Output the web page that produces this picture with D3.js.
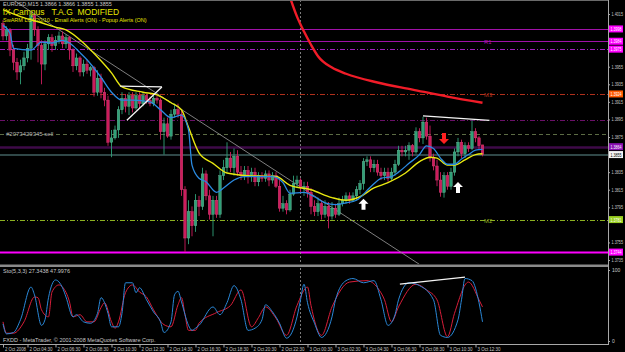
<!DOCTYPE html>
<html>
<head>
<meta charset="utf-8">
<script src="https://cdn.jsdelivr.net/npm/d3@7"></script>
<style>
body { margin: 0; background: #000; }
svg { display: block; font-family: "Liberation Sans", Arial, sans-serif; }
</style>
</head>
<body>
<script>
// EURUSD M15, 2-3 Oct 2008 - candles as [open, high, low, close]
var ohlc = [
  [1.4004,1.4008,1.3985,1.3990],[1.3990,1.4001,1.3985,1.3997],[1.3997,1.3999,1.3967,1.3974],[1.3974,1.3980,1.3951,1.3960],
  [1.3960,1.3965,1.3940,1.3949],[1.3949,1.3963,1.3935,1.3956],[1.3956,1.3972,1.3951,1.3965],[1.3965,1.3981,1.3960,1.3976],
  [1.3976,1.4017,1.3963,1.4013],[1.4013,1.4015,1.3990,1.3997],[1.3997,1.4001,1.3960,1.3979],[1.3979,1.3985,1.3935,1.3958],
  [1.3958,1.3985,1.3951,1.3981],[1.3981,1.3992,1.3974,1.3988],[1.3988,1.3992,1.3972,1.3979],[1.3979,1.3990,1.3974,1.3985],
  [1.3985,1.3995,1.3981,1.3990],[1.3990,1.3995,1.3976,1.3981],[1.3981,1.3992,1.3976,1.3988],[1.3988,1.3990,1.3963,1.3974],
  [1.3974,1.3976,1.3949,1.3956],[1.3956,1.3970,1.3951,1.3965],[1.3965,1.3967,1.3944,1.3949],[1.3949,1.3963,1.3944,1.3958],
  [1.3958,1.3963,1.3947,1.3951],[1.3951,1.3956,1.3944,1.3954],[1.3954,1.3956,1.3921,1.3926],[1.3926,1.3951,1.3922,1.3942],
  [1.3942,1.3947,1.3919,1.3926],[1.3926,1.3931,1.3910,1.3917],[1.3917,1.3922,1.3865,1.3869],[1.3869,1.3883,1.3852,1.3874],
  [1.3874,1.3888,1.3872,1.3883],[1.3883,1.3910,1.3874,1.3906],[1.3906,1.3926,1.3901,1.3919],[1.3919,1.3924,1.3903,1.3910],
  [1.3910,1.3926,1.3900,1.3922],[1.3922,1.3926,1.3903,1.3908],[1.3908,1.3926,1.3906,1.3922],[1.3922,1.3926,1.3908,1.3913],
  [1.3913,1.3926,1.3910,1.3922],[1.3922,1.3924,1.3913,1.3917],[1.3917,1.3921,1.3910,1.3913],[1.3913,1.3922,1.3910,1.3919],
  [1.3919,1.3922,1.3913,1.3917],[1.3917,1.3919,1.3872,1.3881],[1.3881,1.3897,1.3855,1.3890],[1.3890,1.3897,1.3874,1.3876],
  [1.3876,1.3906,1.3872,1.3901],[1.3901,1.3913,1.3897,1.3906],[1.3906,1.3913,1.3897,1.3901],[1.3901,1.3906,1.3808,1.3815],
  [1.3815,1.3819,1.3744,1.3760],[1.3760,1.3803,1.3753,1.3790],[1.3790,1.3796,1.3762,1.3774],[1.3774,1.3810,1.3767,1.3803],
  [1.3803,1.3808,1.3785,1.3796],[1.3796,1.3840,1.3792,1.3833],[1.3833,1.3837,1.3803,1.3808],[1.3808,1.3815,1.3781,1.3787],
  [1.3787,1.3808,1.3762,1.3803],[1.3803,1.3808,1.3783,1.3787],[1.3787,1.3837,1.3783,1.3831],[1.3831,1.3849,1.3826,1.3840],
  [1.3840,1.3869,1.3835,1.3851],[1.3851,1.3858,1.3835,1.3840],[1.3840,1.3862,1.3831,1.3853],[1.3853,1.3860,1.3831,1.3835],
  [1.3835,1.3842,1.3826,1.3831],[1.3831,1.3842,1.3826,1.3837],[1.3837,1.3842,1.3822,1.3831],[1.3831,1.3840,1.3824,1.3835],
  [1.3835,1.3840,1.3819,1.3824],[1.3824,1.3835,1.3819,1.3831],[1.3831,1.3835,1.3824,1.3828],[1.3828,1.3837,1.3824,1.3833],
  [1.3833,1.3837,1.3819,1.3826],[1.3826,1.3835,1.3822,1.3831],[1.3831,1.3835,1.3817,1.3819],[1.3819,1.3826,1.3790,1.3794],
  [1.3794,1.3808,1.3790,1.3799],[1.3799,1.3803,1.3787,1.3792],[1.3792,1.3815,1.3790,1.3810],[1.3810,1.3831,1.3808,1.3822],
  [1.3822,1.3831,1.3817,1.3826],[1.3826,1.3828,1.3812,1.3817],[1.3817,1.3824,1.3808,1.3819],[1.3819,1.3824,1.3806,1.3812],
  [1.3812,1.3817,1.3787,1.3796],[1.3796,1.3803,1.3785,1.3790],[1.3790,1.3806,1.3785,1.3799],[1.3799,1.3803,1.3781,1.3787],
  [1.3787,1.3803,1.3783,1.3796],[1.3796,1.3801,1.3771,1.3785],[1.3785,1.3801,1.3781,1.3794],[1.3794,1.3799,1.3783,1.3787],
  [1.3787,1.3806,1.3785,1.3799],[1.3799,1.3808,1.3796,1.3803],[1.3803,1.3812,1.3799,1.3808],[1.3808,1.3812,1.3799,1.3803],
  [1.3803,1.3812,1.3801,1.3808],[1.3808,1.3819,1.3803,1.3815],[1.3815,1.3826,1.3810,1.3822],[1.3822,1.3851,1.3815,1.3847],
  [1.3847,1.3853,1.3842,1.3849],[1.3849,1.3853,1.3835,1.3840],[1.3840,1.3849,1.3835,1.3844],[1.3844,1.3849,1.3831,1.3835],
  [1.3835,1.3840,1.3826,1.3831],[1.3831,1.3840,1.3826,1.3835],[1.3835,1.3840,1.3824,1.3828],[1.3828,1.3840,1.3826,1.3835],
  [1.3835,1.3849,1.3831,1.3844],[1.3844,1.3865,1.3842,1.3860],[1.3860,1.3865,1.3853,1.3858],[1.3858,1.3865,1.3853,1.3860],
  [1.3860,1.3869,1.3849,1.3865],[1.3865,1.3867,1.3853,1.3858],[1.3858,1.3886,1.3856,1.3881],[1.3881,1.3885,1.3869,1.3874],
  [1.3874,1.3898,1.3867,1.3892],[1.3892,1.3897,1.3872,1.3876],[1.3876,1.3888,1.3847,1.3851],[1.3851,1.3856,1.3837,1.3842],
  [1.3842,1.3849,1.3819,1.3826],[1.3826,1.3835,1.3807,1.3812],[1.3812,1.3835,1.3806,1.3831],[1.3831,1.3835,1.3815,1.3819],
  [1.3819,1.3840,1.3815,1.3835],[1.3835,1.3862,1.3831,1.3858],[1.3858,1.3874,1.3853,1.3869],[1.3869,1.3872,1.3851,1.3856],
  [1.3856,1.3869,1.3851,1.3865],[1.3865,1.3869,1.3858,1.3862],[1.3862,1.3894,1.3860,1.3881],[1.3881,1.3885,1.3869,1.3874],
  [1.3874,1.3876,1.3860,1.3865],[1.3866,1.3866,1.3853,1.3855]
];

// moving averages: [bar, price]
var maFast = [[0,1.4002],[2,1.3993],[3,1.3976],[8,1.3974],[11,1.3983],[14,1.3982],[17,1.3985],[19,1.3982],[22,1.3971],
  [24,1.3963],[28,1.3943],[31,1.3926],[34,1.3917],[37,1.3917],[42,1.3915],[45,1.3906],[48,1.3897],[51,1.3900],[53,1.3883],
  [54,1.3843],[56,1.3828],[58,1.3824],[61,1.3812],[63,1.3817],[66,1.3826],[69,1.3830],[77,1.3830],[80,1.3823],[82,1.3811],
  [86,1.3812],[89,1.3807],[92,1.3800],[95,1.3798],[98,1.3800],[101,1.3803],[105,1.3818],[108,1.3828],[111,1.3830],[113,1.3835],
  [116,1.3845],[119,1.3855],[121,1.3865],[123,1.3862],[125,1.3851],[127,1.3844],[129,1.3844],[131,1.3850],[133,1.3855],
  [135,1.3860],[137,1.3861]];
var maSlow = [[0,1.4020],[5,1.4012],[11,1.4005],[15,1.4000],[18,1.3997],[23,1.3982],[27,1.3966],[31,1.3948],[34,1.3932],
  [40,1.3926],[44,1.3923],[48,1.3914],[51,1.3906],[53,1.3886],[56,1.3857],[60,1.3845],[64,1.3834],[70,1.3831],[78,1.3830],
  [82,1.3820],[88,1.3815],[94,1.3806],[98,1.3803],[102,1.3807],[106,1.3817],[110,1.3823],[115,1.3834],[119,1.3847],
  [122,1.3852],[124,1.3851],[127,1.3843],[129,1.3843],[132,1.3849],[135,1.3855],[137,1.3856]];
var ma200 = [[82,1.4034],[84,1.4012],[86,1.3995],[88,1.3980],[90,1.3967],[94,1.3954],[98,1.3947],[107,1.3937],
  [117,1.3929],[127,1.3921],[137,1.3914]];

// stochastic (5,3,3): [bar, value]
var stochMain = [[0,24],[1,10],[3,12],[5,30],[8,76],[9,65],[11,22],[12,30],[13,61],[15,86],[17,75],[18,62],[20,34],
  [21,37],[23,27],[25,25],[27,39],[28,61],[30,39],[31,20],[33,20],[34,39],[35,82],[37,82],[38,68],[39,75],[41,58],[43,41],
  [45,27],[46,12],[48,27],[49,65],[50,70],[51,55],[53,22],[54,15],[55,18],[56,22],[60,48],[62,37],[64,54],[66,78],[68,58],
  [70,15],[72,18],[74,30],[75,51],[77,41],[79,25],[81,4],[84,34],[85,58],[86,80],[87,54],[89,25],[91,5],[94,34],[95,58],
  [98,85],[100,88],[103,82],[106,85],[108,58],[110,22],[112,37],[113,58],[116,82],[119,78],[123,58],[125,8],[127,5],
  [130,30],[131,58],[132,88],[134,85],[136,54],[137,27]];
var stochSignal = [[0,27],[1,11],[3,11],[6,27],[9,62],[10,61],[11,44],[13,34],[14,69],[16,79],[17,76],[19,55],[20,34],
  [22,37],[24,27],[26,27],[28,47],[29,54],[31,27],[32,18],[33,27],[35,68],[37,79],[39,69],[41,62],[43,44],[46,23],[48,20],
  [50,51],[51,61],[52,37],[53,15],[55,15],[56,25],[61,40],[65,50],[68,72],[71,20],[73,33],[75,48],[78,32],[81,8],[84,50],
  [87,76],[88,50],[91,8],[94,48],[99,83],[104,85],[107,75],[109,58],[111,27],[113,48],[118,80],[121,72],[124,58],[127,6],
  [129,39],[133,83],[136,58],[137,48]];

var priceTicks = [1.4015,1.3995,1.3975,1.3955,1.3935,1.3915,1.3895,1.3875,1.3855,1.3835,1.3815,1.3795,1.3775,1.3755,1.3735];
var timeBars = [0,7,15,23,31,39,47,55,63,71,79,87,95,103,111,119,127,135];
var timeLabels = ['2 Oct 2008','2 Oct 04:30','2 Oct 06:30','2 Oct 08:30','2 Oct 10:30','2 Oct 12:30','2 Oct 14:30',
  '2 Oct 16:30','2 Oct 18:30','2 Oct 20:30','2 Oct 22:30','3 Oct 00:30','3 Oct 02:30','3 Oct 04:30','3 Oct 06:30',
  '3 Oct 08:30','3 Oct 10:30','3 Oct 12:30'];
var dayBreakBar = 85;

// horizontal levels (pivot / order / range lines)
var levelPrices = [1.3998, 1.3984, 1.3975, 1.3924, 1.3894, 1.3878, 1.3864, 1.3856, 1.3854, 1.3781, 1.3744];
var levelTags = ['', 'R1', '', 'M3', '', '#2073429345 sell', '', '', '', 'M2', ''];
var currentPrice = 1.3855;

// hand drawn lines: [bar, price] pairs
var trendLine = [[2.9,1.4031],[119,1.3730]];
var triangleTop = [[33.4,1.3933],[45.4,1.3932]];
var triangleSide = [[35.4,1.3894],[45.4,1.3932]];
var highsLine = [[120,1.3899],[139,1.3894]];
var stochLine = [[113.4,80],[132,90]];
var arrowsUp = [[103,1.3798],[130,1.3817]];
var arrowsDown = [[126,1.3874]];

var width = 625, height = 352;
var axisX = 608;
var font = '"Liberation Sans", Arial, sans-serif';

var x = d3.scaleLinear().domain([0, 137]).range([3, 482.5]);
var y = d3.scaleLinear().domain([1.4015, 1.3735]).range([14, 260]);
var ys = d3.scaleLinear().domain([0, 100]).range([341, 270]);

var svg = d3.select('body').append('svg')
  .attr('width', width).attr('height', height)
  .style('background', '#000');

var defs = svg.append('defs');
defs.append('clipPath').attr('id', 'clipMain')
  .append('rect').attr('x', 0).attr('y', 1).attr('width', axisX).attr('height', 263);
defs.append('clipPath').attr('id', 'clipSto')
  .append('rect').attr('x', 0).attr('y', 268).attr('width', axisX).attr('height', 75);

var main = svg.append('g').attr('clip-path', 'url(#clipMain)');
var sto = svg.append('g').attr('clip-path', 'url(#clipSto)');

// level lines
var levelStyle = [
  { c: '#a010a8', w: 1, d: null },
  { c: '#a010a8', w: 1, d: null },
  { c: '#a020c0', w: 1, d: '5,2,1,2' },
  { c: '#b0301c', w: 1, d: '5,2,1,2' },
  { c: '#6a1068', w: 1, d: '5,2,1,2' },
  { c: '#5c6c44', w: 1, d: '4,3' },
  { c: '#3e0a48', w: 2.5, d: null },
  { c: '#3c5a5a', w: 0.8, d: null },
  { c: '#3c5a5a', w: 0.8, d: null },
  { c: '#8cb020', w: 1, d: '5,2,1,2' },
  { c: '#ff00ff', w: 2, d: null }
];
main.selectAll('line.level').data(levelPrices).enter().append('line')
  .attr('class', 'level')
  .attr('x1', 0).attr('x2', axisX)
  .attr('y1', function(d) { return Math.round(y(d)) + 0.5; })
  .attr('y2', function(d) { return Math.round(y(d)) + 0.5; })
  .attr('stroke', function(d, i) { return levelStyle[i].c; })
  .attr('stroke-width', function(d, i) { return levelStyle[i].w; })
  .attr('stroke-dasharray', function(d, i) { return levelStyle[i].d; });

// day separator
main.append('line')
  .attr('x1', x(dayBreakBar)).attr('x2', x(dayBreakBar)).attr('y1', 0).attr('y2', 264)
  .attr('stroke', '#9a9a9a').attr('stroke-width', 0.8).attr('stroke-dasharray', '2,2');
sto.append('line')
  .attr('x1', x(dayBreakBar)).attr('x2', x(dayBreakBar)).attr('y1', 268).attr('y2', 344)
  .attr('stroke', '#9a9a9a').attr('stroke-width', 0.8).attr('stroke-dasharray', '2,2');

// trend line
var seg = d3.line().x(function(d) { return x(d[0]); }).y(function(d) { return y(d[1]); });
main.append('path').attr('d', seg(trendLine))
  .attr('stroke', '#8c8c8c').attr('stroke-width', 0.9).attr('fill', 'none');

// candles
var candles = main.selectAll('g.candle').data(ohlc).enter().append('g').attr('class', 'candle');
function candleColor(d) { return d[3] >= d[0] ? '#2fa078' : '#cc1c5c'; }
candles.append('line')
  .attr('x1', function(d, i) { return x(i); }).attr('x2', function(d, i) { return x(i); })
  .attr('y1', function(d) { return y(d[1]); }).attr('y2', function(d) { return y(d[2]); })
  .attr('stroke', candleColor).attr('stroke-width', 0.9);
candles.append('rect')
  .attr('x', function(d, i) { return x(i) - 1.3; })
  .attr('width', 2.6)
  .attr('y', function(d) { return y(Math.max(d[0], d[3])); })
  .attr('height', function(d) { return Math.max(1, Math.abs(y(d[0]) - y(d[3]))); })
  .attr('fill', candleColor)
  .attr('stroke', function(d) { return d[3] >= d[0] ? '#6fb89a' : '#d8487a'; })
  .attr('stroke-width', 0.4);

// moving averages
var curve = d3.line().curve(d3.curveMonotoneX)
  .x(function(d) { return x(d[0]); }).y(function(d) { return y(d[1]); });
main.append('path').attr('d', curve(maSlow)).attr('fill', 'none')
  .attr('stroke', '#e8e810').attr('stroke-width', 1.4);
main.append('path').attr('d', curve(maFast)).attr('fill', 'none')
  .attr('stroke', '#2a8ae0').attr('stroke-width', 1.3);
main.append('path').attr('d', curve(ma200)).attr('fill', 'none')
  .attr('stroke', '#f01c28').attr('stroke-width', 2.4);

// white drawings
[triangleTop, triangleSide, highsLine].forEach(function(l) {
  main.append('path').attr('d', seg(l)).attr('stroke', '#f4f4f4')
    .attr('stroke-width', 1.3).attr('fill', 'none');
});

// signal arrows
var upArrow = 'M0,-6 L5,-1 L2,-1 L2,5 L-2,5 L-2,-1 L-5,-1 Z';
main.selectAll('path.up').data(arrowsUp).enter().append('path')
  .attr('class', 'up').attr('d', upArrow).attr('fill', '#ffffff')
  .attr('transform', function(d) { return 'translate(' + x(d[0]) + ',' + y(d[1]) + ')'; });
main.selectAll('path.down').data(arrowsDown).enter().append('path')
  .attr('class', 'down').attr('d', upArrow).attr('fill', '#ff2020')
  .attr('transform', function(d) { return 'translate(' + x(d[0]) + ',' + y(d[1]) + ') rotate(180)'; });

// level tags
main.selectAll('text.tag').data(levelPrices).enter().append('text')
  .attr('class', 'tag')
  .attr('x', function(d, i) { return levelTags[i].charAt(0) === '#' ? 6 : 484; })
  .attr('y', function(d, i) { return y(d) + (levelTags[i].charAt(0) === '#' ? 2 : 3); })
  .attr('font-size', 6)
  .attr('fill', function(d, i) { return levelTags[i].charAt(0) === '#' ? '#b0b0b0' : levelStyle[i].c; })
  .text(function(d, i) { return levelTags[i]; });

// titles
svg.append('text').attr('x', 3).attr('y', 6).attr('font-size', 5.5).attr('fill', '#c8c8c8')
  .text('EURUSD,M15  1.3866 1.3866 1.3855 1.3855');
svg.append('text').attr('x', 3).attr('y', 15).attr('font-size', 8.5).attr('fill', '#e6e600')
  .attr('xml:space', 'preserve').text('iX Campus   T.A.G  MODIFIED');
svg.append('text').attr('x', 3).attr('y', 21.5).attr('font-size', 5.5).attr('fill', '#e6e600')
  .text('SwARM LC4/20/10 - Email Alerts (ON)  -  Popup Alerts (ON)');

// stochastic
var sLine = d3.line().curve(d3.curveMonotoneX)
  .x(function(d) { return x(d[0]); }).y(function(d) { return ys(d[1]); });
sto.append('path').attr('d', sLine(stochSignal)).attr('fill', 'none')
  .attr('stroke', '#d81e3a').attr('stroke-width', 1);
sto.append('path').attr('d', sLine(stochMain)).attr('fill', 'none')
  .attr('stroke', '#2a88d8').attr('stroke-width', 1);
sto.append('path').attr('d', d3.line().x(function(d) { return x(d[0]); }).y(function(d) { return ys(d[1]); })(stochLine))
  .attr('stroke', '#f4f4f4').attr('stroke-width', 1.2);
svg.append('text').attr('x', 3).attr('y', 273).attr('font-size', 5.5).attr('fill', '#c8c8c8')
  .text('Sto(5,3,3) 27.3438 47.9976');
svg.append('text').attr('x', 3).attr('y', 342).attr('font-size', 5.5).attr('fill', '#c8c8c8')
  .text('FXDD - MetaTrader, \u00a9 2001-2008 MetaQuotes Software Corp.');

// frame
var frame = '#a8a8a8';
svg.append('line').attr('x1', 0).attr('x2', axisX).attr('y1', 0.5).attr('y2', 0.5).attr('stroke', '#6a6a6a');
svg.append('line').attr('x1', axisX + 0.5).attr('x2', axisX + 0.5).attr('y1', 0).attr('y2', 345).attr('stroke', frame);
svg.append('rect').attr('x', 0).attr('y', 264.5).attr('width', axisX).attr('height', 2.5).attr('fill', '#8a8a8a');
svg.append('line').attr('x1', 0).attr('x2', axisX).attr('y1', 344.5).attr('y2', 344.5).attr('stroke', frame);

// price boxes on the axis: levels with a marker, then the bid
var boxIdx = [0, 1, 2, 3, 6, 9, 10];
var boxFill = ['#ff00ff', '#ff00ff', '#ff00ff', '#ff5a00', '#8a10b0', '#9ad020', '#ff00ff'];
var boxY = boxIdx.map(function(d) { return y(levelPrices[d]); }).concat([y(currentPrice)]);

// price axis, hiding tick labels that sit under a box
var yAxis = d3.axisRight(y).tickValues(priceTicks.filter(function(p) {
    return boxY.every(function(b) { return Math.abs(y(p) - b) > 6; });
  })).tickSize(2)
  .tickFormat(function(d) { return d.toFixed(4); });
var gy = svg.append('g').attr('transform', 'translate(' + axisX + ',0)').call(yAxis);
gy.select('.domain').remove();
gy.selectAll('line').attr('stroke', frame);
gy.selectAll('text').attr('font-size', 4.6).attr('fill', '#c8c8c8').attr('x', 3.5)
  .attr('textLength', 11.5).attr('lengthAdjust', 'spacingAndGlyphs')
  .attr('font-family', font);

var boxes = svg.selectAll('g.box').data(boxIdx).enter().append('g').attr('class', 'box')
  .attr('transform', function(d) { return 'translate(' + (axisX + 1) + ',' + y(levelPrices[d]) + ')'; });
boxes.append('rect').attr('x', 0).attr('y', -3.5).attr('width', 14).attr('height', 7)
  .attr('fill', function(d, i) { return boxFill[i]; });
boxes.append('text').attr('x', 1.5).attr('y', 2).attr('font-size', 4.6).attr('fill', '#fff')
  .attr('textLength', 11).attr('lengthAdjust', 'spacingAndGlyphs')
  .text(function(d) { return levelPrices[d].toFixed(4); });
var cur = svg.append('g').attr('transform', 'translate(' + (axisX + 1) + ',' + y(currentPrice) + ')');
cur.append('rect').attr('x', 0).attr('y', -3.5).attr('width', 14).attr('height', 7).attr('fill', '#f4f4f4');
cur.append('text').attr('x', 1.5).attr('y', 2).attr('font-size', 4.6).attr('fill', '#000')
  .attr('textLength', 11).attr('lengthAdjust', 'spacingAndGlyphs')
  .text(currentPrice.toFixed(4));

// stochastic axis
var sAxis = d3.axisRight(ys).tickValues([0, 100]).tickSize(2);
var gs = svg.append('g').attr('transform', 'translate(' + axisX + ',0)').call(sAxis);
gs.select('.domain').remove();
gs.selectAll('line').attr('stroke', frame);
gs.selectAll('text').attr('font-size', 5).attr('fill', '#c8c8c8').attr('x', 4)
  .attr('font-family', font);

// time axis
var xAxis = d3.axisBottom(x).tickValues(timeBars).tickSize(3)
  .tickFormat(function(d, i) { return timeLabels[i]; });
var gx = svg.append('g').attr('transform', 'translate(0,344.5)').call(xAxis);
gx.select('.domain').remove();
gx.selectAll('line').attr('stroke', frame);
gx.selectAll('text').attr('font-size', 5).attr('fill', '#c8c8c8')
  .attr('text-anchor', 'start').attr('x', 1.5).attr('y', 2.5)
  .attr('textLength', function(d, i) { return i === 0 ? 21 : 23; })
  .attr('lengthAdjust', 'spacingAndGlyphs')
  .attr('font-family', font);
</script>
</body>
</html>
